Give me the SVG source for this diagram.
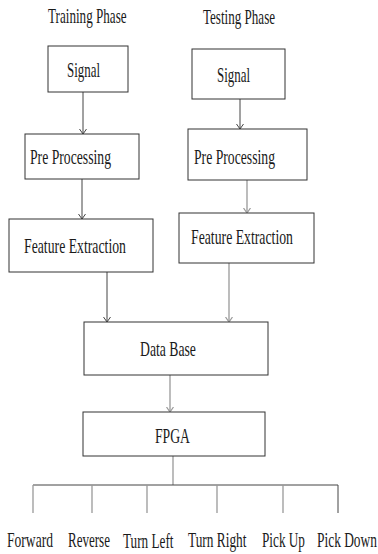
<svg xmlns="http://www.w3.org/2000/svg" width="378" height="554" viewBox="0 0 378 554">
<style>
text{font-family:"Liberation Serif","Times New Roman",serif;font-size:20px;fill:#1a1a1a}
.box{fill:#fff;stroke:#333;stroke-width:1}
.dk{stroke:#444;stroke-width:1;fill:none}
.gr{stroke:#999;stroke-width:1.3;fill:none}
</style>
<defs>
<marker id="ad" viewBox="0 -4 6 8" refX="5" refY="0" markerWidth="6" markerHeight="8" markerUnits="userSpaceOnUse" orient="auto"><path d="M0,-3.5 L5,0 L0,3.5" fill="none" stroke="#444" stroke-width="1"/></marker>
<marker id="ag" viewBox="0 -4 6 8" refX="5" refY="0" markerWidth="6" markerHeight="8" markerUnits="userSpaceOnUse" orient="auto"><path d="M0,-3.5 L5,0 L0,3.5" fill="none" stroke="#999" stroke-width="1.2"/></marker>
</defs>
<g id="titles">
<text transform="translate(48,23) scale(0.656,1)">Training Phase</text>
<text transform="translate(203,24) scale(0.654,1)">Testing Phase</text>
</g>
<g id="connectors">
<line class="dk" x1="83" y1="92" x2="83" y2="134" marker-end="url(#ad)"/>
<line class="dk" x1="82" y1="179" x2="82" y2="219" marker-end="url(#ad)"/>
<line class="dk" x1="107" y1="272" x2="107" y2="322" marker-end="url(#ad)"/>
<line class="dk" x1="240" y1="99" x2="240" y2="129" marker-end="url(#ad)"/>
<line class="gr" x1="247" y1="180" x2="247" y2="213" marker-end="url(#ag)"/>
<line class="gr" x1="229" y1="263" x2="229" y2="322" marker-end="url(#ag)"/>
<line class="gr" x1="170" y1="375" x2="170" y2="412" marker-end="url(#ag)"/>
<line class="gr" x1="173" y1="456" x2="173" y2="485"/>
<line class="dk" x1="33" y1="485" x2="338" y2="485"/>
<line class="gr" x1="33" y1="485" x2="33" y2="513"/>
<line class="gr" x1="92" y1="485" x2="92" y2="513"/>
<line class="gr" x1="147" y1="485" x2="147" y2="513"/>
<line class="gr" x1="217" y1="485" x2="217" y2="513"/>
<line class="gr" x1="283" y1="485" x2="283" y2="513"/>
<line class="dk" x1="338" y1="485" x2="338" y2="513"/>
</g>
<g id="train-signal"><rect class="box" x="48" y="46" width="80" height="46"/><text transform="translate(67,77) scale(0.646,1)">Signal</text></g>
<g id="test-signal"><rect class="box" x="192" y="49" width="93" height="50"/><text transform="translate(217,82) scale(0.646,1)">Signal</text></g>
<g id="train-preproc"><rect class="box" x="25" y="134" width="114" height="45"/><text transform="translate(30,164) scale(0.685,1)">Pre Processing</text></g>
<g id="test-preproc"><rect class="box" x="188" y="129" width="119" height="51"/><text transform="translate(194,164) scale(0.685,1)">Pre Processing</text></g>
<g id="train-feature"><rect class="box" x="9" y="219" width="144" height="53"/><text transform="translate(24,253) scale(0.688,1)">Feature Extraction</text></g>
<g id="test-feature"><rect class="box" x="179" y="213" width="135" height="50"/><text transform="translate(191,244) scale(0.688,1)">Feature Extraction</text></g>
<g id="database"><rect class="box" x="84" y="322" width="184" height="53"/><text transform="translate(140,356) scale(0.686,1)">Data Base</text></g>
<g id="fpga"><rect class="box" x="83" y="412" width="182" height="44"/><text transform="translate(155,443) scale(0.685,1)">FPGA</text></g>
<g id="outputs">
<text transform="translate(7,547) scale(0.679,1)">Forward</text>
<text transform="translate(68,547) scale(0.652,1)">Reverse</text>
<text transform="translate(123,548) scale(0.661,1)">Turn Left</text>
<text transform="translate(188,547) scale(0.668,1)">Turn Right</text>
<text transform="translate(262,547) scale(0.662,1)">Pick Up</text>
<text transform="translate(317,547) scale(0.671,1)">Pick Down</text>
</g>
</svg>
